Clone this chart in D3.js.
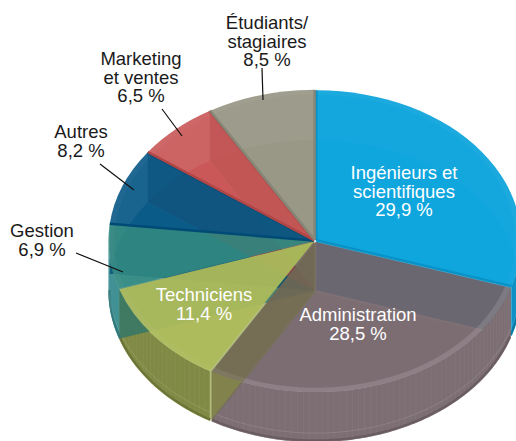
<!DOCTYPE html>
<html>
<head>
<meta charset="utf-8">
<script src="https://cdn.jsdelivr.net/npm/d3@7"></script>
<style>
  html, body { margin: 0; background: #fff; overflow: hidden; }
  text { font-family: "Liberation Sans", Arial, sans-serif; font-size: 18.5px; }
</style>
</head>
<body>
<div id="chart"></div>
<script>
const categories = ['Ingénieurs et scientifiques', 'Administration', 'Techniciens', 'Gestion', 'Autres', 'Marketing et ventes', 'Étudiants/stagiaires'];
const shares = [29.9, 28.5, 11.4, 6.9, 8.2, 6.5, 8.5];
const shareLabels = ['29,9 %', '28,5 %', '11,4 %', '6,9 %', '8,2 %', '6,5 %', '8,5 %'];
const topColors = ['#0aa3dc', '#706066', '#abb95a', '#2d877f', '#005383', '#c64e4e', '#969583'];
const topAlphas = [0.96, 0.82, 0.95, 0.88, 0.9, 0.88, 0.93];
const wallColors = ['#0b8fc4', '#7c6e73', '#818a44', '#3c8f92', '#0f5f8a', '#b05050', '#80806e'];
const edgeStrips = [true, false, false, false, true, true, true];

const width = 516, height = 441;
const cx = 315, cy = 241, rx = 205, ry = 150, depth = 50, explode = 1.6;
const k = ry / rx;

const svg = d3.select('#chart').append('svg')
  .attr('width', width)
  .attr('height', height);

const pie = d3.pie().sort(null).value(d => d);
const arcs = pie(shares);
const arcPath = d3.arc().innerRadius(0).outerRadius(rx);
const rimPath = d3.arc().innerRadius(rx - 6).outerRadius(rx);
const line = d3.line();

// Point on the tilted disc, in screen coordinates relative to the slice origin
function project(angle, r, dy) {
  return [r * Math.sin(angle), -k * r * Math.cos(angle) + (dy || 0)];
}

function sliceOffset(d) {
  const mid = (d.startAngle + d.endAngle) / 2;
  return [cx + explode * Math.sin(mid), cy - explode * k * Math.cos(mid)];
}

// Angles along the outer edge, clamped to the front of the cylinder
function frontAngles(d) {
  const a0 = Math.max(d.startAngle, Math.PI / 2);
  const a1 = Math.min(d.endAngle, Math.PI * 1.5);
  if (a1 <= a0) return [];
  return d3.range(a0, a1, 0.01).concat([a1]);
}

function radialWall(angle) {
  return [[0, 0], project(angle, rx), project(angle, rx, depth), [0, depth]];
}

const slices = svg.selectAll('g.under')
  .data(arcs)
  .join('g')
  .attr('class', 'under')
  .attr('transform', d => { const o = sliceOffset(d); return `translate(${o[0]},${o[1]})`; });

// Bottom faces seen through the glassy top
slices.append('path')
  .attr('transform', `translate(0,${depth}) scale(1,${k})`)
  .attr('d', arcPath)
  .attr('fill', (d, i) => topColors[i])
  .attr('fill-opacity', 0.55);

// Radial walls
slices.each(function(d, i) {
  [d.startAngle, d.endAngle].forEach(a => {
    d3.select(this).append('path')
      .attr('d', line(radialWall(a)) + 'Z')
      .attr('fill', d3.color(topColors[i]).darker(0.8))
      .attr('fill-opacity', 0.4);
  });
});

// Outer walls, only where they face the viewer
slices.each(function(d, i) {
  const angles = frontAngles(d);
  if (!angles.length) return;
  const g = d3.select(this);
  const wall = d3.area()
    .x(a => rx * Math.sin(a))
    .y0(a => -k * rx * Math.cos(a))
    .y1(a => -k * rx * Math.cos(a) + depth);
  g.append('path')
    .attr('d', wall(angles))
    .attr('fill', wallColors[i]);
  // thin ribs left by the mesh
  g.selectAll('line.rib')
    .data(angles.filter((a, j) => j % 3 === 0))
    .join('line')
    .attr('class', 'rib')
    .attr('x1', a => rx * Math.sin(a))
    .attr('x2', a => rx * Math.sin(a))
    .attr('y1', a => -k * rx * Math.cos(a))
    .attr('y2', a => -k * rx * Math.cos(a) + depth)
    .attr('stroke', '#fff')
    .attr('stroke-opacity', 0.04);
  // darker lip along the foot of the wall
  g.append('path')
    .attr('d', line(angles.map(a => project(a, rx - 1, depth - 1))))
    .attr('fill', 'none')
    .attr('stroke', d3.color(wallColors[i]).darker(0.5))
    .attr('stroke-width', 2);
  // pale seam near the foot of the wall
  g.append('path')
    .attr('d', line(angles.map(a => project(a, rx, depth - 9))))
    .attr('fill', 'none')
    .attr('stroke', '#fff')
    .attr('stroke-opacity', 0.12);
});

// Top faces
const tops = svg.selectAll('g.top')
  .data(arcs)
  .join('g')
  .attr('class', 'top')
  .attr('transform', d => { const o = sliceOffset(d); return `translate(${o[0]},${o[1]})`; });

tops.append('path')
  .attr('transform', `scale(1,${k})`)
  .attr('d', arcPath)
  .attr('fill', (d, i) => topColors[i])
  .attr('fill-opacity', (d, i) => topAlphas[i]);

tops.append('path')
  .attr('transform', `scale(1,${k})`)
  .attr('d', rimPath)
  .attr('fill', '#fff')
  .attr('fill-opacity', (d, i) => i === 1 ? 0.13 : 0.03);

tops.each(function(d, i) {
  if (!edgeStrips[i]) return;
  [d.startAngle, d.endAngle].forEach(a => {
    d3.select(this).append('path')
      .attr('d', line([[0, 0], project(a, rx)]))
      .attr('fill', 'none')
      .attr('stroke', d3.color(topColors[i]).darker(0.3))
      .attr('stroke-width', 2.5);
  });
});

// Olive wall between Administration and Techniciens, showing through the glass
tops.filter((d, i) => i === 1).append('path')
  .attr('d', d => line(radialWall(d.endAngle)) + 'Z')
  .attr('fill', '#706f40')
  .attr('fill-opacity', 0.45);

// Labels and leaders, in the same order as the slices
const labelLayout = [
  { lines: ['Ingénieurs et', 'scientifiques'], x: 404, y: 179, fill: '#fff' },
  { lines: ['Administration'], x: 358, y: 321, fill: '#fff' },
  { lines: ['Techniciens'], x: 204, y: 301, fill: '#fff' },
  { lines: ['Gestion'], x: 42, y: 237, fill: '#1a1a1a', leader: [[76, 253], [123, 272]] },
  { lines: ['Autres'], x: 81, y: 138, fill: '#1a1a1a', leader: [[100, 164], [134, 190]] },
  { lines: ['Marketing', 'et ventes'], x: 141, y: 65, fill: '#1a1a1a', leader: [[162, 109], [182, 136]] },
  { lines: ['Étudiants/', 'stagiaires'], x: 267, y: 29, fill: '#1a1a1a', leader: [[262, 68], [263, 100]] }
];

labelLayout.forEach((l, i) => {
  if (l.leader) {
    svg.append('path')
      .attr('d', line(l.leader))
      .attr('stroke', '#111')
      .attr('stroke-width', 1.2)
      .attr('fill', 'none');
  }
  const label = svg.append('text')
    .attr('y', l.y)
    .attr('text-anchor', 'middle')
    .attr('fill', l.fill);
  l.lines.concat([shareLabels[i]]).forEach((t, j) => {
    label.append('tspan')
      .attr('x', l.x)
      .attr('dy', j === 0 ? 0 : 18.7)
      .text(t);
  });
});
</script>
</body>
</html>
